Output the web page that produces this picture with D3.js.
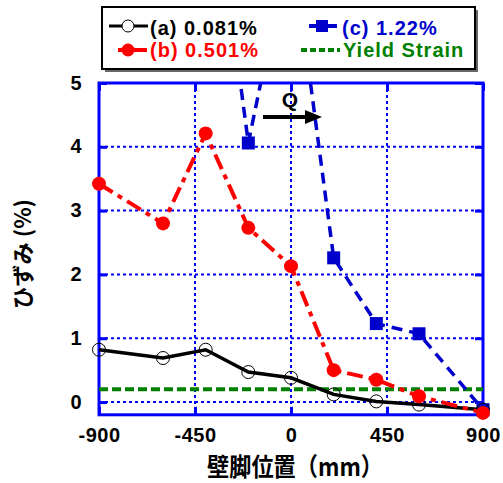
<!DOCTYPE html>
<html><head><meta charset="utf-8">
<script src="https://cdn.jsdelivr.net/npm/d3@7"></script>
<style>body{margin:0;background:#fff}svg{display:block}</style>
</head><body><svg id="c" width="503" height="483"></svg>
<script>
// ---- data ----
const positions = [-900, -600, -400, -200, 0, 200, 400, 600, 900];
const strainA = [0.82, 0.69, 0.82, 0.47, 0.38, 0.12, 0.01, -0.04, -0.12];
const strainB = [3.42, 2.80, 4.21, 2.73, 2.13, 0.50, 0.35, 0.09, -0.17];
const positionsC = [-400, -200, 0, 200, 400, 600, 900];
const strainC = [9.1, 4.06, 7.3, 2.26, 1.23, 1.07, -0.12];
const yieldStrain = 0.2;
const xTicks = [-900, -450, 0, 450, 900];
const yTicks = [0, 1, 2, 3, 4, 5];
const legendLabels = ["(a) 0.081%", "(b) 0.501%", "(c) 1.22%", "Yield Strain"];
const xTitle = "壁脚位置（mm）";
const yTitle = "ひずみ (%)";

const svg = d3.select("#c");
const x = d3.scaleLinear().domain([-900, 900]).range([99, 483]);
const y = d3.scaleLinear().domain([-0.2, 5]).range([414.8, 83]);
const BLUE = "#0000ff", RED = "#ff0000", CBLUE = "#0000cc", GREEN = "#008000";
const latin = "'Liberation Sans', Arial, sans-serif";
const cjk = "'Noto Sans CJK JP', sans-serif";

svg.append("defs").append("clipPath").attr("id", "clip")
  .append("rect").attr("x", 99).attr("y", 83).attr("width", 384).attr("height", 331.8);

// grid
const g = svg.append("g");
g.selectAll(".gx").data(xTicks.slice(1, -1)).join("line")
  .attr("x1", d => x(d)).attr("x2", d => x(d)).attr("y1", y(5)).attr("y2", y(-0.2))
  .attr("stroke", BLUE).attr("stroke-width", 2).attr("stroke-dasharray", "3,3");
g.selectAll(".gy").data(yTicks.slice(0, -1)).join("line")
  .attr("x1", x(-900)).attr("x2", x(900)).attr("y1", d => y(d)).attr("y2", d => y(d))
  .attr("stroke", BLUE).attr("stroke-width", 2).attr("stroke-dasharray", "3,3");

const fmt = d => String(d);
// axes via d3
const axB = svg.append("g").attr("transform", `translate(0,${y(-0.2)})`)
  .call(d3.axisBottom(x).tickValues(xTicks).tickSize(-8).tickPadding(13).tickFormat(fmt));
const axT = svg.append("g").attr("transform", `translate(0,${y(5)})`)
  .call(d3.axisTop(x).tickValues(xTicks).tickSize(-8).tickFormat(""));
const axL = svg.append("g").attr("transform", `translate(${x(-900)},0)`)
  .call(d3.axisLeft(y).tickValues(yTicks).tickSize(-8).tickPadding(17).tickFormat(fmt));
const axR = svg.append("g").attr("transform", `translate(${x(900)},0)`)
  .call(d3.axisRight(y).tickValues(yTicks).tickSize(-8).tickFormat(""));
[axB, axT, axL, axR].forEach(a => {
  a.select(".domain").remove();
  a.selectAll(".tick line").attr("stroke", BLUE).attr("stroke-width", 3);
  a.selectAll("text").attr("font-family", latin).attr("font-weight", "bold")
    .attr("font-size", 20).attr("fill", "#000").attr("letter-spacing", 0.5);
});
axB.selectAll("text").attr("dy", "0.71em");
axL.selectAll("text").attr("dy", "0.3em");
svg.append("rect").attr("x", x(-900)).attr("y", y(5)).attr("width", x(900) - x(-900))
  .attr("height", y(-0.2) - y(5)).attr("fill", "none").attr("stroke", BLUE).attr("stroke-width", 3);

// yield line
svg.append("line").attr("x1", x(-900)).attr("x2", x(900)).attr("y1", y(yieldStrain)).attr("y2", y(yieldStrain))
  .attr("stroke", GREEN).attr("stroke-width", 4).attr("stroke-dasharray", "9,4");

const line = d3.line().x(d => x(d[0])).y(d => y(d[1]));
const dataA = positions.map((p, i) => [p, strainA[i]]);
const dataB = positions.map((p, i) => [p, strainB[i]]);
const dataC = positionsC.map((p, i) => [p, strainC[i]]);

// series c
svg.append("path").datum(dataC).attr("d", line).attr("clip-path", "url(#clip)")
  .attr("fill", "none").attr("stroke", CBLUE).attr("stroke-width", 3.5).attr("stroke-dasharray", "11,7");
svg.selectAll(".mc").data(dataC.filter(d => d[1] <= 5)).join("rect")
  .attr("x", d => x(d[0]) - 6.5).attr("y", d => y(d[1]) - 6.5).attr("width", 13).attr("height", 13).attr("fill", CBLUE);

// series a
svg.append("path").datum(dataA).attr("d", line).attr("fill", "none").attr("stroke", "#000").attr("stroke-width", 3.5);
svg.selectAll(".ma").data(dataA).join("circle")
  .attr("cx", d => x(d[0])).attr("cy", d => y(d[1])).attr("r", 6.5)
  .attr("fill", "none").attr("stroke", "#000").attr("stroke-width", 1);

// series b
svg.append("path").datum(dataB).attr("d", line).attr("fill", "none").attr("stroke", RED)
  .attr("stroke-width", 4).attr("stroke-dasharray", "16,6,5,6");
svg.selectAll(".mb").data(dataB).join("circle")
  .attr("cx", d => x(d[0])).attr("cy", d => y(d[1])).attr("r", 7).attr("fill", RED);

// Q arrow
svg.append("line").attr("x1", 263).attr("x2", 308).attr("y1", 117).attr("y2", 117).attr("stroke", "#000").attr("stroke-width", 4);
svg.append("path").attr("d", "M305,110 L322,117 L305,124 Z").attr("fill", "#000");
svg.append("text").attr("x", 290).attr("y", 107).attr("text-anchor", "middle")
  .attr("font-family", latin).attr("font-weight", "bold").attr("font-size", 21).text("Q");

// legend
const lg = svg.append("g");
lg.append("rect").attr("x", 105).attr("y", 10).attr("width", 373).attr("height", 62).attr("fill", "#666");
lg.append("rect").attr("x", 102).attr("y", 7).attr("width", 373).attr("height", 62).attr("fill", "#fff").attr("stroke", "#000").attr("stroke-width", 2);
// a
lg.append("line").attr("x1", 109).attr("x2", 148).attr("y1", 26).attr("y2", 26).attr("stroke", "#000").attr("stroke-width", 3);
lg.append("circle").attr("cx", 128).attr("cy", 26).attr("r", 6).attr("fill", "#fff").attr("stroke", "#000").attr("stroke-width", 1);
// b
lg.append("line").attr("x1", 118).attr("x2", 147).attr("y1", 50).attr("y2", 50).attr("stroke", RED).attr("stroke-width", 4);
lg.append("circle").attr("cx", 128).attr("cy", 50).attr("r", 6.5).attr("fill", RED);
// c
lg.append("line").attr("x1", 309).attr("x2", 337).attr("y1", 26).attr("y2", 26).attr("stroke", CBLUE).attr("stroke-width", 4);
lg.append("rect").attr("x", 316).attr("y", 20).attr("width", 12).attr("height", 12).attr("fill", CBLUE);
// yield
lg.append("line").attr("x1", 301).attr("x2", 340).attr("y1", 50).attr("y2", 50).attr("stroke", GREEN).attr("stroke-width", 4).attr("stroke-dasharray", "6,3");
const lt = [[150, 35, "#000"], [150, 57, RED], [342, 35, CBLUE], [343, 57, GREEN]];
lg.selectAll(".lt").data(legendLabels).join("text")
  .attr("x", (d, i) => lt[i][0]).attr("y", (d, i) => lt[i][1]).attr("fill", (d, i) => lt[i][2])
  .attr("font-family", latin).attr("font-weight", "bold").attr("font-size", 20).attr("letter-spacing", 1).text(d => d);

// titles
svg.append("text").attr("x", 207).attr("y", 476)
  .attr("font-family", cjk).attr("font-size", 25).attr("font-weight", "bold")
  .attr("textLength", 176).attr("lengthAdjust", "spacingAndGlyphs").text(xTitle);
svg.append("text").attr("transform", "translate(31,254) rotate(-90)").attr("text-anchor", "middle")
  .attr("font-family", cjk).attr("font-size", 22).attr("font-weight", "bold")
  .attr("textLength", 110).attr("lengthAdjust", "spacingAndGlyphs").text(yTitle);
</script></body></html>
